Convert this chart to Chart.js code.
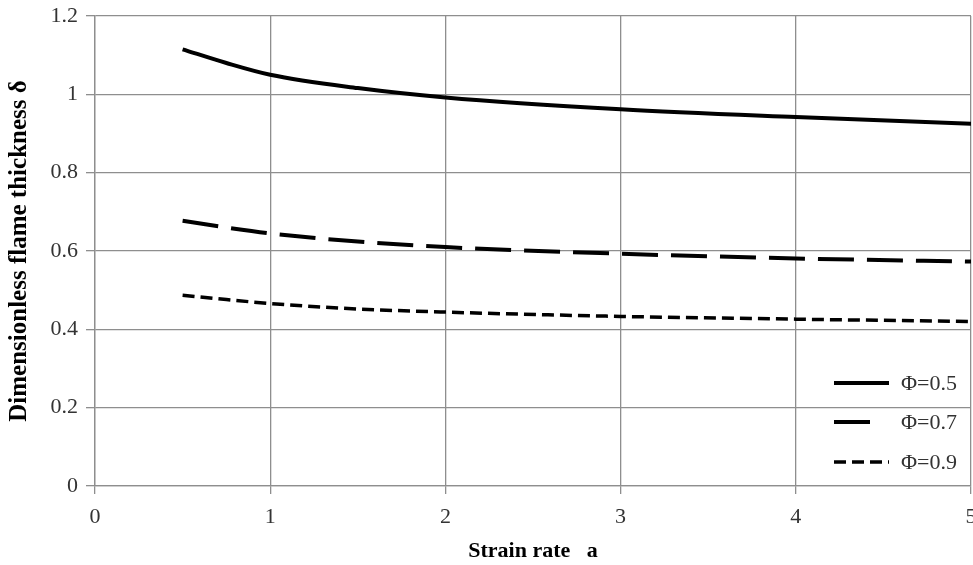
<!DOCTYPE html>
<html>
<head>
<meta charset="utf-8">
<script src="https://cdn.jsdelivr.net/npm/chart.js@4"></script>
<style>
  body { margin: 0; background: #fff; }
  #wrap { width: 973px; height: 565px; }
</style>
</head>
<body>
<div id="wrap"><canvas id="flame"></canvas></div>
<script>
// strain rate a (x) and dimensionless flame thickness (y)
var strainRate = [0.5, 0.75, 1, 1.5, 2, 3, 4, 5];
var phi05 = [1.115, 1.08, 1.05, 1.016, 0.992, 0.962, 0.942, 0.925];
var phi07 = [0.677, 0.66, 0.645, 0.624, 0.610, 0.593, 0.581, 0.573];
var phi09 = [0.487, 0.476, 0.466, 0.452, 0.444, 0.433, 0.426, 0.420];
var seriesLabels = ['\u03A6=0.5', '\u03A6=0.7', '\u03A6=0.9'];
var yTickLabels = ['0', '0.2', '0.4', '0.6', '0.8', '1', '1.2'];
var xTickLabels = ['0', '1', '2', '3', '4', '5'];

function pts(ys) {
    return strainRate.map(function (x, i) { return { x: x, y: ys[i] }; });
}

var gridCol = '#8e8e8e';
var serif = "'Liberation Serif', 'DejaVu Serif', serif";

// legend drawn inside the plot, bottom right
var insideLegend = {
    id: 'insideLegend',
    afterDatasetsDraw: function (chart) {
        var c = chart.ctx;
        var rows = [383, 422, 462];
        c.save();
        chart.data.datasets.forEach(function (ds, i) {
            c.beginPath();
            c.setLineDash(ds.borderDash || []);
            c.lineWidth = ds.borderWidth;
            c.strokeStyle = ds.borderColor;
            c.moveTo(834, rows[i]);
            c.lineTo(i == 1 ? 872 : 889, rows[i]);
            c.stroke();
            c.setLineDash([]);
            c.fillStyle = '#333';
            c.font = '22px ' + serif;
            c.textBaseline = 'middle';
            c.fillText(ds.label, 901, rows[i] + 1);
        });
        c.restore();
    }
};

new Chart(document.getElementById('flame'), {
    type: 'line',
    data: {
        datasets: [{
            label: seriesLabels[0],
            data: pts(phi05),
            borderColor: '#000',
            borderWidth: 4,
            pointRadius: 0,
            cubicInterpolationMode: 'monotone'
        }, {
            label: seriesLabels[1],
            data: pts(phi07),
            borderColor: '#000',
            borderWidth: 4,
            borderDash: [36, 13],
            pointRadius: 0,
            cubicInterpolationMode: 'monotone'
        }, {
            label: seriesLabels[2],
            data: pts(phi09),
            borderColor: '#000',
            borderWidth: 3.5,
            borderDash: [12, 6],
            pointRadius: 0,
            cubicInterpolationMode: 'monotone'
        }]
    },
    options: {
        responsive: true,
        maintainAspectRatio: false,
        animation: false,
        layout: { padding: { top: 16, right: 2, left: 0, bottom: 0 } },
        plugins: { legend: { display: false }, tooltip: { enabled: false } },
        scales: {
            x: {
                type: 'linear',
                min: 0,
                max: 5,
                ticks: {
                    stepSize: 1,
                    padding: 10,
                    color: '#333',
                    font: { family: serif, size: 22 },
                    maxRotation: 0,
                    callback: function (v) { return xTickLabels[v]; }
                },
                grid: { color: gridCol, lineWidth: 1.3, tickLength: 8 },
                border: { color: gridCol, width: 1.3 },
                title: {
                    display: true,
                    text: 'Strain rate   a',
                    color: '#000',
                    font: { family: serif, size: 22, weight: 'bold' },
                    padding: { top: 4, bottom: 0 }
                },
                afterFit: function (s) {
                    s.height = 79;
                    s.paddingLeft = 0;
                    s.paddingRight = 0;
                }
            },
            y: {
                min: 0,
                max: 1.2,
                ticks: {
                    stepSize: 0.2,
                    padding: 8,
                    color: '#333',
                    font: { family: serif, size: 22 },
                    callback: function (v, i) { return yTickLabels[i]; }
                },
                grid: { color: gridCol, lineWidth: 1.3, tickLength: 9 },
                border: { color: gridCol, width: 1.3 },
                title: {
                    display: true,
                    text: 'Dimensionless flame thickness \u03B4',
                    color: '#000',
                    font: { family: serif, size: 25, weight: 'bold' },
                    padding: { top: 5, bottom: 0 }
                },
                afterFit: function (s) {
                    s.width = 95;
                    s.paddingTop = 0;
                    s.paddingBottom = 0;
                }
            }
        }
    },
    plugins: [insideLegend]
});
</script>
</body>
</html>
